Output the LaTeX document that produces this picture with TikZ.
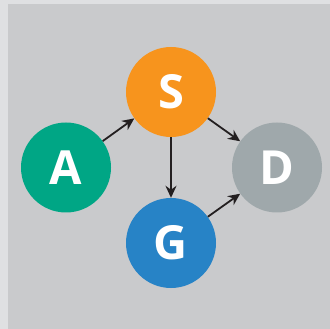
\documentclass[tikz,border=0pt]{standalone}
\usepackage{fontspec}
\setmainfont{Open Sans}
\usetikzlibrary{arrows.meta}
\definecolor{frame}{HTML}{DFE0E2}
\definecolor{panel}{HTML}{C9CACC}
\definecolor{sorange}{HTML}{F7941D}
\definecolor{agreen}{HTML}{00A685}
\definecolor{dgray}{HTML}{9FA8AB}
\definecolor{gblue}{HTML}{2783C6}
\definecolor{ink}{HTML}{231F20}
\tikzset{
  vertex/.style={circle, minimum size=90pt, inner sep=0pt, text=white,
    font=\bfseries\fontsize{47}{47}\selectfont},
  link/.style={draw=ink, line width=1.8pt, -{Stealth[length=12pt,width=11pt]}}
}
\begin{document}
\begin{tikzpicture}[x=1pt,y=-1pt]
  \useasboundingbox (0,0) rectangle (330,329);
  \fill[frame] (0,0) rectangle (330,329);
  \fill[panel] (8,4) rectangle (330,329);
  \node[vertex, fill=sorange] (S) at (171,92) {S};
  \node[vertex, fill=agreen] (A) at (66,167.5) {A};
  \node[vertex, fill=dgray] (D) at (277,167.5) {D};
  \node[vertex, fill=gblue] (G) at (171,243) {G};
  \draw[link] (A) -- (S);
  \draw[link] (S) -- (D);
  \draw[link] (S) -- (G);
  \draw[link] (G) -- (D);
\end{tikzpicture}
\end{document}
